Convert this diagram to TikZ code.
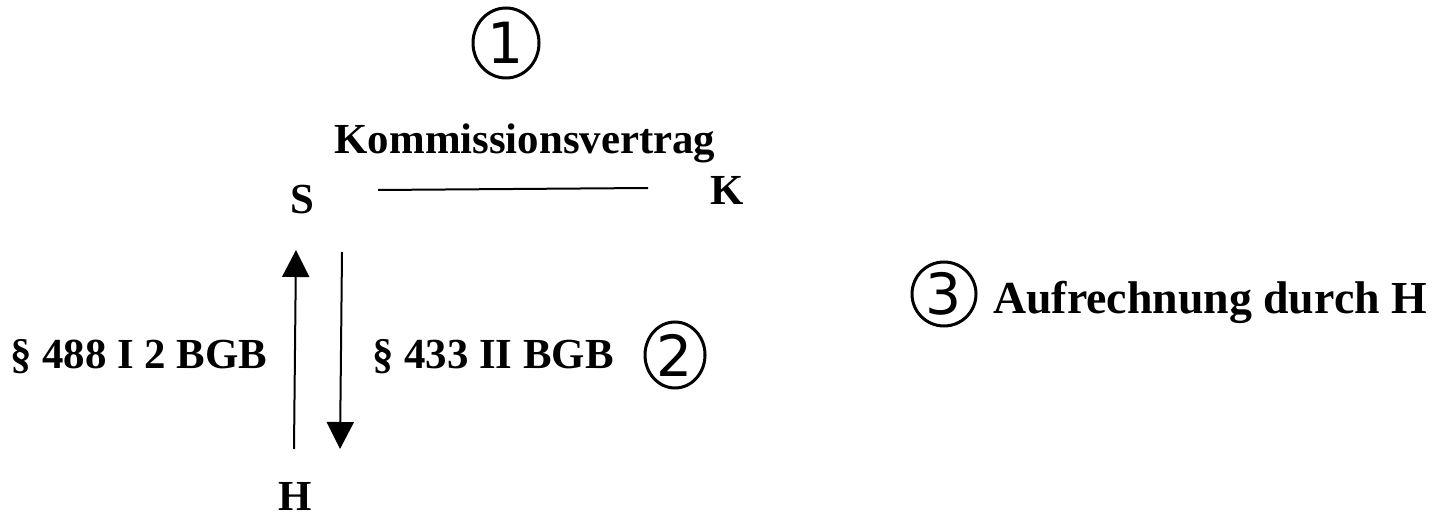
\documentclass[tikz,border=0pt]{standalone}
\usepackage{fontspec}
\setmainfont{Liberation Serif}
\newfontfamily\circfont{DejaVu Sans}
\usetikzlibrary{shapes.geometric,arrows.meta}
\begin{document}
\begin{tikzpicture}[x=1bp,y=-1bp,
  lbl/.style={font=\fontsize{43}{48}\selectfont\bfseries, inner sep=0pt},
  circnum/.style={draw, ellipse, line width=3bp, inner sep=0pt, minimum width=66bp, minimum height=68bp,
     font=\circfont\fontsize{57}{60}\selectfont},
  conn/.style={line width=2bp},
  arr/.style={line width=2bp, -{Triangle[length=27bp,width=27bp]}}]
\useasboundingbox (0,0) rectangle (1433,518);
\node[circnum, minimum height=70bp] (c1) at (506,43) {1};
\node[lbl, anchor=base] (kv) at (525,154) {Kommissionsvertrag};
\node[lbl, anchor=base] (S) at (302,214) {S};
\node[lbl, anchor=base] (K) at (727,205) {K};
\node[lbl, anchor=base] (H) at (295,510) {H};
\coordinate (l1) at (378,190);
\coordinate (l2) at (648,188);
\draw[conn] (l1) -- (l2);
\coordinate (u1) at (294,449);
\coordinate (u2) at (296,250);
\draw[arr] (u1) -- (u2);
\coordinate (d1) at (342,252);
\coordinate (d2) at (340,449);
\draw[arr] (d1) -- (d2);
\node[lbl, anchor=base west] (p488) at (10,368) {§ 488 I 2 BGB};
\node[lbl, anchor=base west] (p433) at (372,368) {§ 433 II BGB};
\node[circnum, minimum width=60bp, minimum height=66bp] (c2) at (675,355) {2};
\node[circnum, minimum width=64bp, minimum height=64bp] (c3) at (944,294) {3};
\node[lbl, font=\fontsize{46}{50}\selectfont\bfseries, anchor=base west] (auf) at (993,313) {Aufrechnung durch H};
\end{tikzpicture}
\end{document}
